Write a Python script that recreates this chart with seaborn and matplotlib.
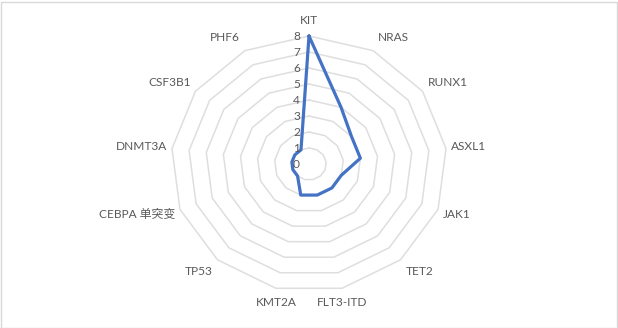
import numpy as np
import pandas as pd
import matplotlib
matplotlib.use("Agg")
import matplotlib.pyplot as plt
import matplotlib.transforms as mtransforms
from matplotlib.patches import Rectangle
import seaborn as sns

categories = ["KIT", "NRAS", "RUNX1", "ASXL1", "JAK1", "TET2", "FLT3-ITD",
              "KMT2A", "TP53", "CEBPA 单突变", "DNMT3A", "CSF3B1", "PHF6"]
values = [8, 4, 3, 3, 2, 2, 2, 2, 1, 1, 1, 1, 1]
tick_values = [0, 1, 2, 3, 4, 5, 6, 7, 8]

sns.set_style("white")
plt.rcParams["font.family"] = ["Lato", "Noto Sans CJK SC", "DejaVu Sans"]

W, H = 618, 328
fig = plt.figure(figsize=(W / 100, H / 100), dpi=100)
fig.patch.set_facecolor("white")

cx, cy, RX, RY = 309, 164, 138, 128
ax = fig.add_axes([(cx - RX) / W, (H - cy - RY) / H, 2 * RX / W, 2 * RY / H],
                  projection="polar")
ax.set_aspect("auto")
ax.set_theta_zero_location("N")
ax.set_theta_direction(-1)
ax.set_ylim(0, 8)
ax.grid(False)
ax.set_xticks([])
ax.set_yticks([])
ax.spines["polar"].set_visible(False)
ax.set_facecolor("none")

n = len(categories)
theta = np.linspace(0, 2 * np.pi, n, endpoint=False)
ring_theta = np.append(theta, theta[0])

# polygon gridlines
for k in tick_values[1:]:
    ax.plot(ring_theta, [k] * (n + 1), color="#dedede", lw=1.1, zorder=1,
            clip_on=False)

df = pd.DataFrame({"theta": np.append(theta, 2 * np.pi),
                   "value": values + [values[0]]})
sns.lineplot(data=df, x="theta", y="value", sort=False, estimator=None,
             ax=ax, color="#4472C4", lw=2.3, zorder=3, clip_on=False)
ax.set_xlabel("")
ax.set_ylabel("")
ax.set_ylim(0, 8)

# radial tick labels
off = mtransforms.offset_copy(ax.transData, fig=fig, x=-9, y=0, units="dots")
for k in tick_values:
    ax.text(0, k, str(k), transform=off, ha="right", va="center",
            fontsize=8.6, color="#595959", clip_on=False, zorder=4)

# category labels
for t, lab in zip(theta, categories):
    s, c = np.sin(t), np.cos(t)
    if abs(s) < 0.3:
        ha, dx = "center", 0
    elif s > 0:
        ha, dx = "left", 5
    else:
        ha, dx = "right", -5
    dy = 15 * c
    tr = mtransforms.offset_copy(ax.transData, fig=fig, x=dx, y=dy, units="dots")
    ax.text(t, 8, lab, transform=tr, ha=ha, va="center", fontsize=8.6,
            color="#595959", clip_on=False)

fig.patches.append(Rectangle((0.5 / W, 0.5 / H), (W - 2) / W, (H - 2) / H,
                             transform=fig.transFigure, fill=False,
                             edgecolor="#d9d9d9", lw=1.0))

fig.savefig("out.png", dpi=100)
